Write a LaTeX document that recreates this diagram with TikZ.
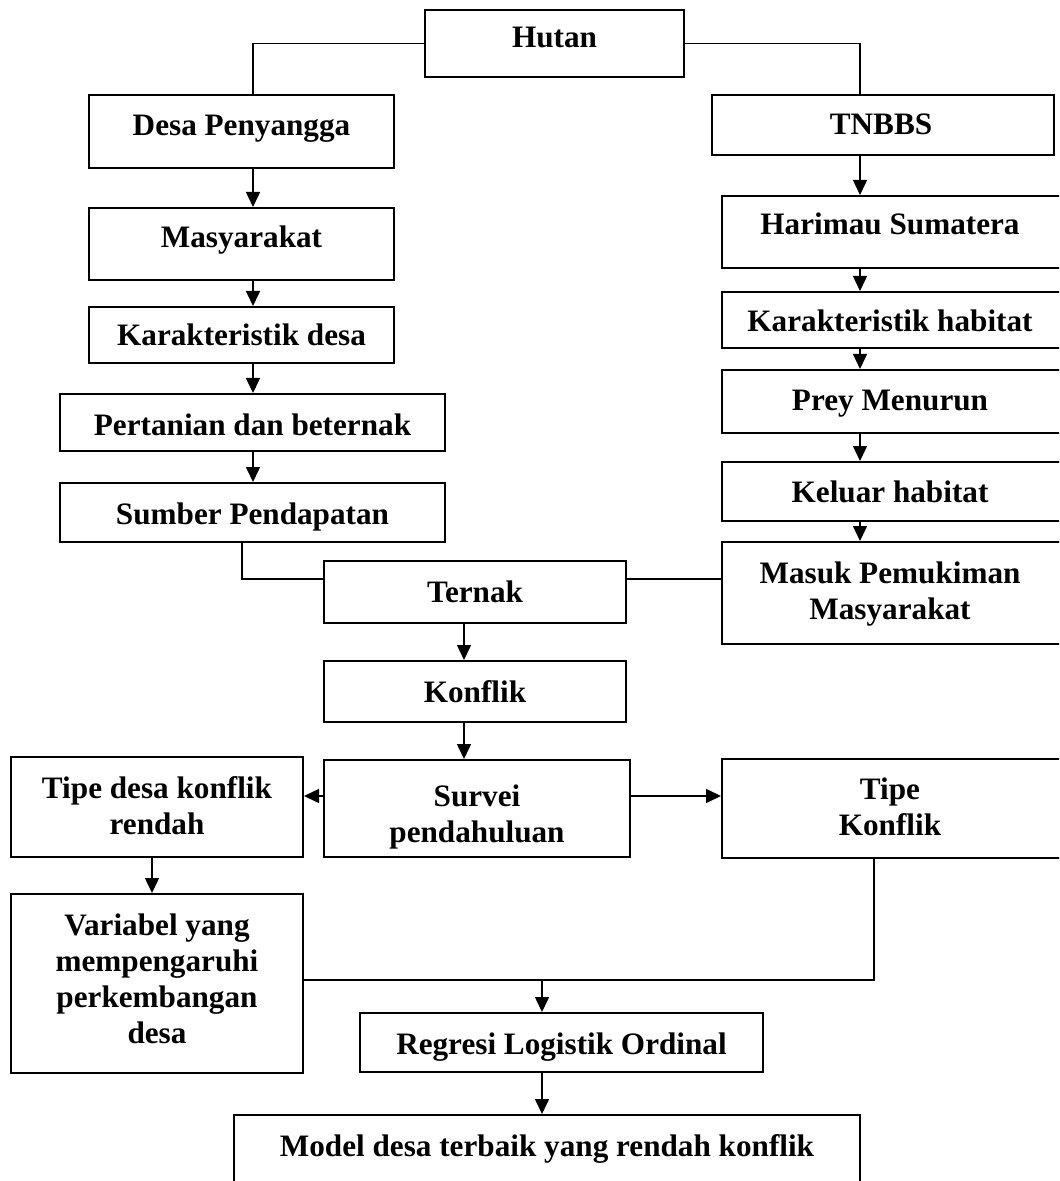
\documentclass[tikz,border=0pt]{standalone}
\usepackage{fontspec}
\setmainfont{Liberation Serif}
\usetikzlibrary{arrows.meta}
\newcommand{\boxnode}[5]{\node[box, minimum width={(#4-#2)*0.5pt}, minimum height={(#5-#3)*0.5pt}] (#1) at ({(#2+#4)/2},{(#3+#5)/2}) {};}
\begin{document}
\begin{tikzpicture}[x=0.5pt,y=-0.5pt,
  box/.style={draw, line width=1pt, inner sep=0pt},
  txt/.style={anchor=base, inner sep=0pt, align=center, font=\bfseries\fontsize{15.6}{18}\selectfont},
  conn/.style={line width=0.75pt},
  arr/.style={conn, -{Triangle[length=7.5pt,width=7pt]}}]
\useasboundingbox (0,0) rectangle (1059,1181);
\clip (0,0) rectangle (1059,1181);
% boxes: name, x1, y1, x2, y2 (pixels)
\boxnode{hutan}{425}{10}{684}{77}
\boxnode{desa}{89}{95}{394}{168}
\boxnode{masy}{89}{208}{394}{280}
\boxnode{kard}{89}{307}{394}{363}
\boxnode{pert}{60}{394}{445}{451}
\boxnode{sumber}{60}{483}{445}{542}
\boxnode{ternak}{324}{561}{626}{623}
\boxnode{konflik}{324}{661}{626}{722}
\boxnode{survei}{324}{760}{630}{857}
\boxnode{tipedesa}{11}{757}{303}{857}
\boxnode{variabel}{11}{894}{303}{1073}
\boxnode{regresi}{360}{1013}{763}{1072}
\boxnode{model}{234}{1115}{860}{1210}
\boxnode{tnbbs}{712}{95}{1054}{155}
\boxnode{harimau}{722}{196}{1064}{268}
\boxnode{karh}{722}{292}{1064}{348}
\boxnode{prey}{722}{370}{1064}{433}
\boxnode{keluar}{722}{462}{1064}{521}
\boxnode{masuk}{722}{542}{1064}{644}
\boxnode{tipek}{722}{759}{1064}{858}
% texts (anchor = baseline of the last line)
\node[txt] (hutan-t) at (554.5,48) {Hutan};
\node[txt] (desa-t) at (241.5,136) {Desa Penyangga};
\node[txt] (masy-t) at (241.5,248) {Masyarakat};
\node[txt] (kard-t) at (241.5,346) {Karakteristik desa};
\node[txt] (pert-t) at (252.5,435) {Pertanian dan beternak};
\node[txt] (sumber-t) at (252.5,524) {Sumber Pendapatan};
\node[txt] (ternak-t) at (475,602) {Ternak};
\node[txt] (konflik-t) at (475,702) {Konflik};
\node[txt] (survei-t) at (477,842) {Survei\\pendahuluan};
\node[txt] (tipedesa-t) at (157,834) {Tipe desa konflik\\rendah};
\node[txt] (variabel-t) at (157,1043) {Variabel yang\\mempengaruhi\\perkembangan\\desa};
\node[txt] (regresi-t) at (561.5,1054) {Regresi Logistik Ordinal};
\node[txt] (model-t) at (547,1156) {Model desa terbaik yang rendah konflik};
\node[txt] (tnbbs-t) at (881,135) {TNBBS};
\node[txt] (harimau-t) at (890,235) {Harimau Sumatera};
\node[txt] (karh-t) at (890,332) {Karakteristik habitat};
\node[txt] (prey-t) at (890,410) {Prey Menurun};
\node[txt] (keluar-t) at (890,502) {Keluar habitat};
\node[txt] (masuk-t) at (890,619) {Masuk Pemukiman\\Masyarakat};
\node[txt] (tipek-t) at (890,835) {Tipe\\Konflik};
% connector guide coordinates
\coordinate (lx) at (253,0);
\coordinate (rx) at (860,0);
\coordinate (sx) at (242,579);
\coordinate (cx) at (464,0);
\coordinate (sy) at (0,796);
\coordinate (vx) at (152,0);
\coordinate (jy) at (874,980);
\coordinate (jx) at (542,980);
% connectors
\draw[conn] (hutan.west) -| (lx |- desa.north);
\draw[conn] (hutan.east) -| (rx |- tnbbs.north);
\draw[arr] (lx |- desa.south) -- (lx |- masy.north);
\draw[arr] (lx |- masy.south) -- (lx |- kard.north);
\draw[arr] (lx |- kard.south) -- (lx |- pert.north);
\draw[arr] (lx |- pert.south) -- (lx |- sumber.north);
\draw[arr] (rx |- tnbbs.south) -- (rx |- harimau.north);
\draw[arr] (rx |- harimau.south) -- (rx |- karh.north);
\draw[arr] (rx |- karh.south) -- (rx |- prey.north);
\draw[arr] (rx |- prey.south) -- (rx |- keluar.north);
\draw[arr] (rx |- keluar.south) -- (rx |- masuk.north);
\draw[conn] (sx |- sumber.south) -- (sx) -- (sx -| ternak.west);
\draw[conn] (masuk.west |- sx) -- (ternak.east |- sx);
\draw[arr] (cx |- ternak.south) -- (cx |- konflik.north);
\draw[arr] (cx |- konflik.south) -- (cx |- survei.north);
\draw[arr] (survei.west |- sy) -- (tipedesa.east |- sy);
\draw[arr] (survei.east |- sy) -- (tipek.west |- sy);
\draw[arr] (vx |- tipedesa.south) -- (vx |- variabel.north);
\draw[conn] (variabel.east |- jy) -- (jy) -- (jy |- tipek.south);
\draw[arr] (jx) -- (jx |- regresi.north);
\draw[arr] (jx |- regresi.south) -- (jx |- model.north);
\end{tikzpicture}
\end{document}
